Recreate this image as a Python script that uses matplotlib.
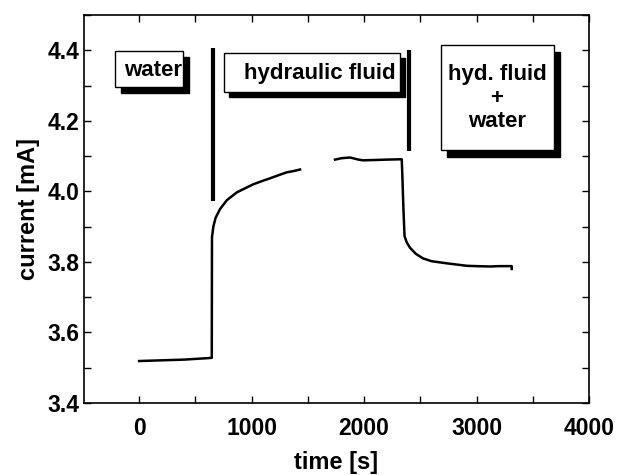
import numpy as np
import matplotlib.pyplot as plt
from matplotlib.patches import Rectangle
from matplotlib.ticker import MultipleLocator

plt.rcParams["font.family"] = ["Liberation Sans", "DejaVu Sans"]
plt.rcParams["font.weight"] = "bold"

# measured current trace (NaN = gap in recording)
time_s = [0, 100, 200, 300, 400, 500, 600, 646, 648,
          660, 680, 720, 780, 868, 950, 1015, 1100, 1164, 1250, 1313, 1380, 1431,
          np.nan,
          1742, 1800, 1876, 1950, 1991, 2100, 2200, 2335,
          2340, 2350, 2360, 2380, 2409, 2460, 2524, 2600, 2735, 2913, 3000, 3120, 3200, 3313, 3313]
current_mA = [3.519, 3.520, 3.521, 3.522, 3.523, 3.525, 3.527, 3.528, 3.870,
              3.900, 3.925, 3.950, 3.975, 3.997, 4.010, 4.020, 4.030, 4.037, 4.047, 4.054, 4.058, 4.062,
              np.nan,
              4.090, 4.094, 4.096, 4.090, 4.088, 4.089, 4.090, 4.091,
              4.050, 3.950, 3.873, 3.855, 3.840, 3.823, 3.810, 3.802, 3.796, 3.789, 3.788, 3.787, 3.788, 3.788, 3.780]

# medium change markers
marker_t = [661, 2403]
marker_lo = [3.972, 4.115]
marker_hi = [4.406, 4.400]

fig = plt.figure(figsize=(6.2, 4.75), dpi=100)
ax = fig.add_axes([84/620, 1-403/475, 505/620, 388/475])

ax.plot(time_s, current_mA, color="black", lw=1.8)
ax.vlines(marker_t, marker_lo, marker_hi, color="black", lw=3)

ax.set_xlim(-490, 4000)
ax.set_ylim(3.4, 4.5)
ax.set_xticks([0, 1000, 2000, 3000, 4000])
ax.set_yticks([3.4, 3.6, 3.8, 4.0, 4.2, 4.4])
ax.xaxis.set_minor_locator(MultipleLocator(500))
ax.yaxis.set_minor_locator(MultipleLocator(0.1))
ax.tick_params(which="both", direction="in", top=True, right=True, length=5, width=1)
ax.tick_params(axis="x", labelsize=16.5, pad=10)
ax.tick_params(axis="y", labelsize=16.5, pad=3)
ax.set_xlabel("time [s]", fontsize=17, fontweight="bold", labelpad=8)
ax.set_ylabel("current [mA]", fontsize=17, fontweight="bold", labelpad=6)
for s in ax.spines.values():
    s.set_linewidth(1.2)


def box(x0, y0, x1, y1, dx, dy):
    # pixel coords -> figure fraction, drop shadow then white box
    W, H = 620, 475
    sh = Rectangle(((x0+dx)/W, 1-(y1+dy)/H), (x1-x0)/W, (y1-y0)/H,
                   transform=fig.transFigure, facecolor="black", edgecolor="black", zorder=5)
    bx = Rectangle((x0/W, 1-y1/H), (x1-x0)/W, (y1-y0)/H,
                   transform=fig.transFigure, facecolor="white", edgecolor="black", lw=1, zorder=6)
    fig.patches.extend([sh, bx])


box(115, 51, 183, 87, 6, 6)
box(224, 53, 400, 92, 5, 5)
box(441, 45, 554, 150, 6, 7)

fig.text(153/620, 1-70/475, "water", fontsize=16, fontweight="bold", ha="center", va="center", zorder=7)
fig.text(320/620, 1-73/475, "hydraulic fluid", fontsize=16, fontweight="bold", ha="center", va="center", zorder=7)
fig.text(497/620, 1-98/475, "hyd. fluid\n+\nwater", fontsize=16, fontweight="bold",
         ha="center", va="center", linespacing=1.15, zorder=7)

fig.savefig("out.png", dpi=100)
